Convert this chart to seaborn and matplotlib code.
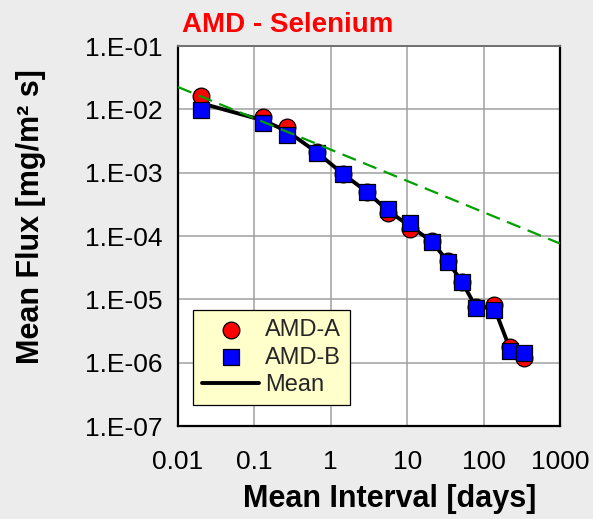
import matplotlib
matplotlib.use('Agg')
import matplotlib.pyplot as plt
import matplotlib.ticker as mticker
import numpy as np
import pandas as pd
import seaborn as sns

# values
interval = [0.02, 0.13, 0.27, 0.66, 1.44, 2.98, 5.6, 10.9, 21, 34, 52, 80, 137, 222, 338]
flux_a = [1.62e-2, 7.5e-3, 5.2e-3, 2.1e-3, 9.7e-4, 5.0e-4, 2.3e-4, 1.29e-4, 8.3e-5, 4.0e-5,
          1.9e-5, 7.5e-6, 8.1e-6, 1.78e-6, 1.17e-6]
flux_b = [9.7e-3, 6.0e-3, 3.9e-3, 2.06e-3, 9.5e-4, 4.9e-4, 2.7e-4, 1.58e-4, 8.1e-5, 3.9e-5,
          1.89e-5, 7.3e-6, 6.9e-6, 1.52e-6, 1.40e-6]
flux_mean = [1.25e-2, 6.7e-3, 4.5e-3, 2.08e-3, 9.6e-4, 4.95e-4, 2.5e-4, 1.43e-4, 8.2e-5, 3.95e-5,
             1.9e-5, 7.4e-6, 7.5e-6, 1.64e-6, 1.28e-6]
trend_x = [0.01, 1000]
trend_y = [2.25e-2, 7.6e-5]

df = pd.DataFrame({'interval': interval, 'AMD-A': flux_a, 'AMD-B': flux_b, 'Mean': flux_mean})
df_trend = pd.DataFrame({'x': trend_x, 'y': trend_y})

sns.set_style('white')
plt.rcParams['font.family'] = ['Liberation Sans', 'DejaVu Sans']

bg = '#ececec'
fig = plt.figure(figsize=(5.93, 5.19), dpi=100, facecolor=bg)
ax = fig.add_axes([178 / 593, 1 - 426 / 519, 382 / 593, 380 / 519])
ax.set_facecolor('white')
ax.set_xscale('log')
ax.set_yscale('log')

# mean line underneath, then markers, dashed trend on top
sns.lineplot(data=df, x='interval', y='Mean', color='black', lw=2.8, label='Mean', ax=ax, zorder=3)
sns.scatterplot(data=df, x='interval', y='AMD-A', marker='o', s=145, color='#ff0000',
                edgecolor='black', linewidth=0.9, label='AMD-A', ax=ax, zorder=4)
sns.scatterplot(data=df, x='interval', y='AMD-B', marker='s', s=145, color='#0000ff',
                edgecolor='black', linewidth=0.9, label='AMD-B', ax=ax, zorder=5)
sns.lineplot(data=df_trend, x='x', y='y', color='#00a000', lw=1.6,
             linestyle=(0, (6.5, 3.5)), ax=ax, zorder=6)

ax.set_xlim(0.01, 1000)
ax.set_ylim(1e-7, 1e-1)

ax.xaxis.set_major_locator(mticker.LogLocator(base=10, numticks=20))
ax.yaxis.set_major_locator(mticker.LogLocator(base=10, numticks=20))
ax.xaxis.set_minor_locator(mticker.LogLocator(base=10, subs=np.arange(2, 10), numticks=100))
ax.yaxis.set_minor_locator(mticker.LogLocator(base=10, subs=np.arange(2, 10), numticks=100))
ax.xaxis.set_minor_formatter(mticker.NullFormatter())
ax.yaxis.set_minor_formatter(mticker.NullFormatter())
ax.xaxis.set_major_formatter(mticker.FuncFormatter(lambda v, p: '{:g}'.format(v)))
ax.yaxis.set_major_formatter(mticker.FuncFormatter(lambda v, p: '1.E-%02d' % round(-np.log10(v))))

ax.grid(True, which='major', color='#a0a0a0', lw=1.1)
ax.grid(False, which='minor')
ax.tick_params(which='major', direction='inout', length=10, width=1.3, color='black',
               labelsize=19, labelcolor='black')
ax.tick_params(axis='x', which='major', pad=12)
ax.tick_params(axis='y', which='major', pad=6)
ax.tick_params(which='minor', direction='in', length=5, width=0.9, color='black')
ax.tick_params(top=False, right=False, which='both')

for side in ['left', 'bottom', 'right']:
    ax.spines[side].set_color('black')
    ax.spines[side].set_linewidth(1.6)
ax.spines['top'].set_color('#707070')
ax.spines['top'].set_linewidth(1.4)

ax.set_xlabel('')
ax.set_ylabel('')

# legend in AMD-A, AMD-B, Mean order
handles, labels = ax.get_legend_handles_labels()
order = [labels.index(n) for n in ['AMD-A', 'AMD-B', 'Mean']]
leg = ax.legend([handles[i] for i in order], [labels[i] for i in order],
                loc='upper left', bbox_to_anchor=(193 / 593, 1 - 310 / 519),
                bbox_transform=fig.transFigure, borderaxespad=0, fontsize=17,
                frameon=True, fancybox=False, framealpha=1, facecolor='#ffffcc',
                edgecolor='black', handlelength=2.4, handletextpad=0.25,
                labelspacing=0.22, borderpad=0.4)
leg.get_frame().set_linewidth(0.9)
leg.set_zorder(10)

fig.text(288 / 593, 1 - 32 / 519, 'AMD - Selenium', color='#ff0000', fontsize=20,
         fontweight='bold', ha='center', va='baseline')
fig.text(390 / 593, 1 - 507 / 519, 'Mean Interval [days]', color='black', fontsize=22,
         fontweight='bold', ha='center', va='baseline')
fig.text(31 / 593, 1 - 217 / 519, 'Mean Flux [mg/m² s]', color='black', fontsize=22,
         fontweight='bold', ha='center', va='center', rotation=90)

fig.savefig('out.png', dpi=100, facecolor=bg)
